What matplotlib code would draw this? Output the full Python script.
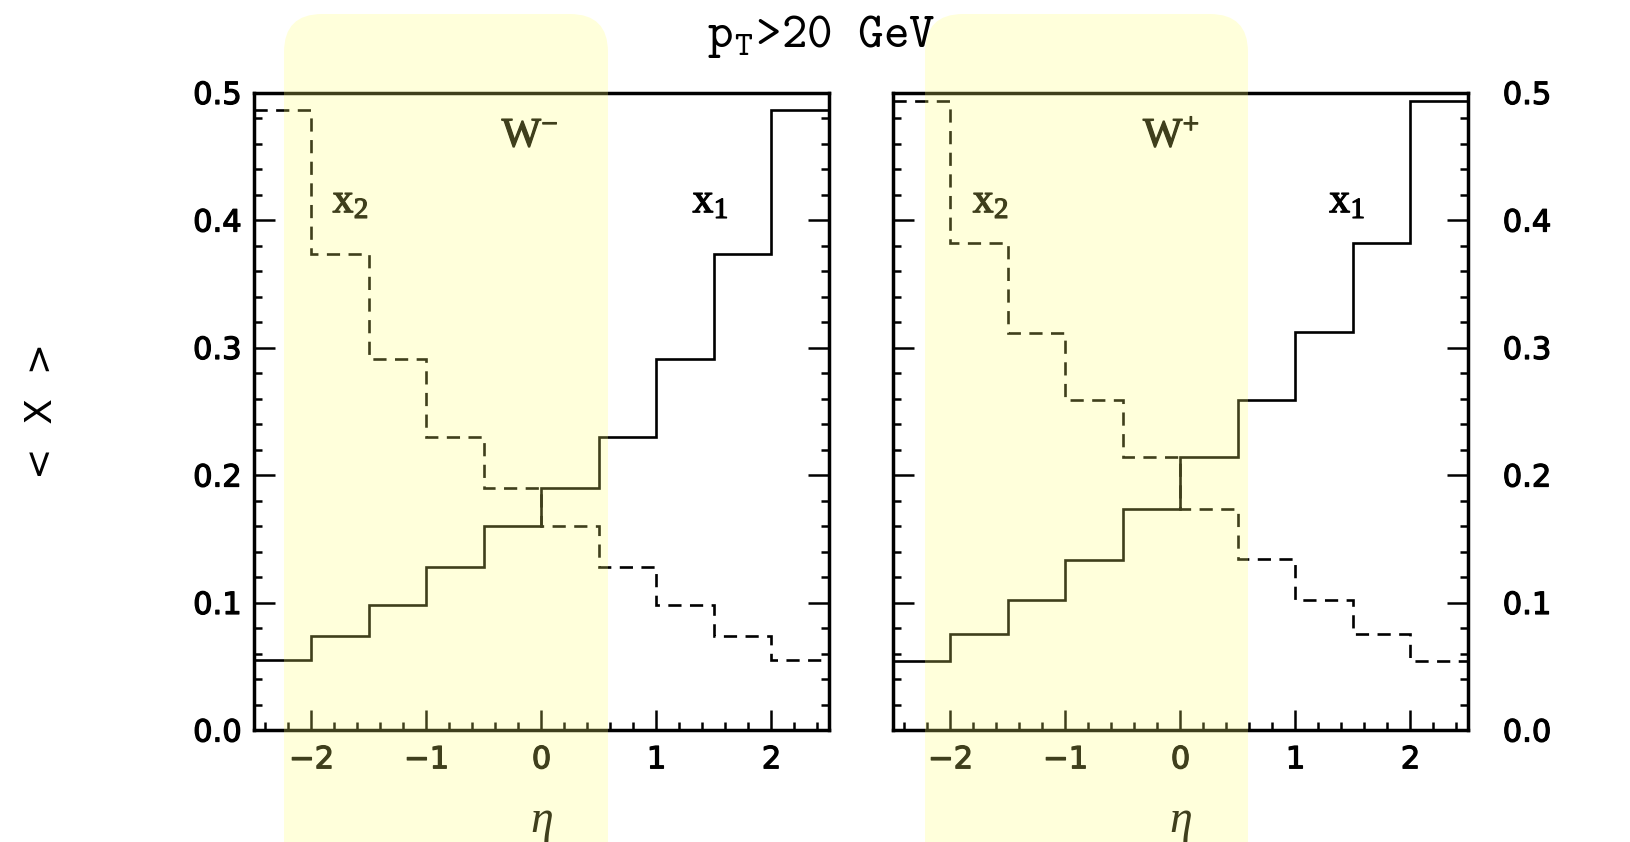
import matplotlib
matplotlib.use("Agg")
import matplotlib.pyplot as plt
import matplotlib.patheffects as pe
from matplotlib.patches import FancyBboxPatch
from matplotlib.transforms import IdentityTransform
from matplotlib.ticker import MultipleLocator, FixedLocator, FuncFormatter

plt.rcParams['mathtext.fontset'] = 'custom'
plt.rcParams['mathtext.rm'] = 'Liberation Serif'
plt.rcParams['mathtext.it'] = 'Liberation Serif:italic'
plt.rcParams['mathtext.tt'] = 'cmtt10'
plt.rcParams['font.family'] = ['DejaVu Sans']

# ---- data ----
eta_edges = [-2.5, -2.0, -1.5, -1.0, -0.5, 0.0, 0.5, 1.0, 1.5, 2.0, 2.5]
wminus_x1 = [0.055, 0.074, 0.098, 0.128, 0.160, 0.190, 0.230, 0.291, 0.373, 0.486]
wminus_x2 = [0.486, 0.373, 0.291, 0.230, 0.190, 0.160, 0.128, 0.098, 0.074, 0.055]
wplus_x1 = [0.054, 0.075, 0.102, 0.133, 0.173, 0.214, 0.259, 0.312, 0.382, 0.493]
wplus_x2 = [0.493, 0.382, 0.311, 0.259, 0.214, 0.173, 0.134, 0.102, 0.075, 0.054]
panel_labels = [r'$\mathrm{W}^{-}$', r'$\mathrm{W}^{+}$']
series_labels = [r'$\mathrm{x}_{1}$', r'$\mathrm{x}_{2}$']
x_ticks = [-2, -1, 0, 1, 2]
y_ticks = [0.0, 0.1, 0.2, 0.3, 0.4, 0.5]

W, H = 1630, 842
fig = plt.figure(figsize=(W / 100, H / 100), dpi=100)

ax_l = fig.add_axes([254 / W, 112 / H, 575 / W, 637.5 / H])
ax_r = fig.add_axes([893 / W, 112 / H, 575 / W, 637.5 / H])

panels = [
    (ax_l, wminus_x1, wminus_x2, panel_labels[0], -0.10, -1.66, 1.47, 'left'),
    (ax_r, wplus_x1, wplus_x2, panel_labels[1], -0.08, -1.65, 1.45, 'right'),
]

bold = [pe.withStroke(linewidth=0.9, foreground='black')]

for ax, x1, x2, wlab, wx, x2x, x1x, side in panels:
    ax.stairs(x1, eta_edges, color='black', lw=1.9, baseline=None)
    ax.stairs(x2, eta_edges, color='black', lw=1.9, baseline=None,
              linestyle=(0, (5, 3.2)))
    ax.set_xlim(-2.5, 2.5)
    ax.set_ylim(0, 0.5)
    for sp in ax.spines.values():
        sp.set_linewidth(2.5)
    ax.xaxis.set_major_locator(FixedLocator(x_ticks))
    ax.xaxis.set_minor_locator(MultipleLocator(0.2))
    ax.yaxis.set_major_locator(FixedLocator(y_ticks))
    ax.yaxis.set_minor_locator(MultipleLocator(0.02))
    ax.xaxis.set_major_formatter(FuncFormatter(lambda v, p: f"{v:.0f}".replace('-', '\u2212')))
    ax.yaxis.set_major_formatter(FuncFormatter(lambda v, p: f"{v:.1f}"))
    ax.tick_params(axis='x', which='both', direction='in', bottom=True, top=False,
                   width=1.8, labelsize=22, pad=11)
    ax.tick_params(axis='x', which='major', length=14.5)
    ax.tick_params(axis='x', which='minor', length=5.5)
    ax.tick_params(axis='y', which='both', direction='in', left=True, right=True,
                   width=1.8, labelsize=22)
    ax.tick_params(axis='y', which='major', length=15)
    ax.tick_params(axis='y', which='minor', length=5.8)
    if side == 'left':
        ax.tick_params(axis='y', labelleft=True, labelright=False, pad=9)
    else:
        ax.tick_params(axis='y', labelleft=False, labelright=True, pad=25)
    for t in ax.xaxis.get_major_ticks() + ax.yaxis.get_major_ticks():
        t.label1.set_path_effects(bold)
        t.label2.set_path_effects(bold)
    ax.text(wx, 0.467, wlab, fontsize=30, ha='center', va='center',
            path_effects=bold)
    ax.text(x2x, 0.4155, series_labels[1], fontsize=30, ha='center', va='center',
            path_effects=bold)
    ax.text(x1x, 0.4155, series_labels[0], fontsize=30, ha='center', va='center',
            path_effects=bold)
    ax.text(0.5, -0.143, r'$\eta$', transform=ax.transAxes, fontsize=33,
            ha='center', va='center')

fig.text(821 / W, 1 - 36 / H, r'$\mathtt{p_T}$>20 GeV', family='cmtt10',
         fontsize=35, ha='center', va='center')
fig.text(42 / W, 1 - 411 / H, '<  X  >', rotation=90, fontsize=27,
         ha='center', va='center')

# yellow highlight bands
for x0, x1b in [(284, 608), (925, 1248)]:
    band = FancyBboxPatch((x0, -60), x1b - x0, (H - 14) + 60,
                          boxstyle='round,pad=0,rounding_size=38',
                          facecolor='#FFFF70', edgecolor='none', alpha=0.25,
                          transform=IdentityTransform(), zorder=10)
    fig.add_artist(band)

fig.savefig('out.png', dpi=100)
